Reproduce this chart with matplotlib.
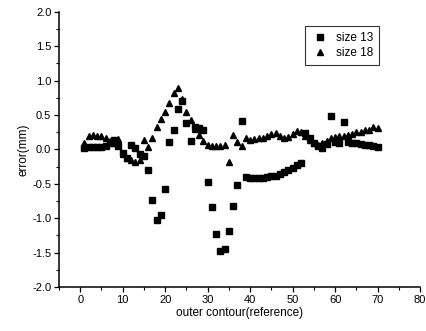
import matplotlib
matplotlib.use('Agg')
import matplotlib.pyplot as plt
import matplotlib.ticker as mticker

plt.rcParams['font.family'] = ['Liberation Sans', 'DejaVu Sans']

# ── Data ──────────────────────────────────────────────────────────────────────
x_points = list(range(1, 71))

size13 = [0.02, 0.03, 0.03, 0.04, 0.04, 0.05, 0.10, 0.14, 0.05, -0.05,
          -0.12, 0.07, 0.02, -0.06, -0.10, -0.30, -0.74, -1.03, -0.96, -0.58,
          0.11, 0.28, 0.59, 0.70, 0.38, 0.12, 0.33, 0.31, 0.28, -0.47,
          -0.84, -1.23, -1.47, -1.45, -1.18, -0.82, -0.52, 0.42, -0.40, -0.41,
          -0.41, -0.41, -0.41, -0.40, -0.39, -0.38, -0.36, -0.33, -0.30, -0.27,
          -0.23, -0.19, 0.24, 0.17, 0.10, 0.05, 0.02, 0.08, 0.48, 0.11,
          0.10, 0.40, 0.11, 0.10, 0.09, 0.08, 0.07, 0.06, 0.05, 0.03]

size18 = [0.10, 0.19, 0.21, 0.19, 0.20, 0.17, 0.12, 0.10, 0.15, -0.06,
          -0.12, -0.16, -0.18, -0.15, 0.14, 0.03, 0.17, 0.33, 0.45, 0.55,
          0.67, 0.82, 0.90, 0.73, 0.55, 0.43, 0.30, 0.21, 0.13, 0.07,
          0.05, 0.05, 0.05, 0.06, -0.18, 0.21, 0.11, 0.05, 0.16, 0.14,
          0.15, 0.17, 0.16, 0.19, 0.22, 0.24, 0.20, 0.16, 0.18, 0.22,
          0.27, 0.26, 0.20, 0.14, 0.09, 0.07, 0.10, 0.13, 0.17, 0.18,
          0.19, 0.20, 0.21, 0.23, 0.25, 0.26, 0.28, 0.29, 0.33, 0.31]

x_ticks = [0, 10, 20, 30, 40, 50, 60, 70, 80]
y_ticks = [-2.0, -1.5, -1.0, -0.5, 0.0, 0.5, 1.0, 1.5, 2.0]

# ── Figure ────────────────────────────────────────────────────────────────────
fig = plt.figure(figsize=(4.26, 3.31), dpi=100)
ax = fig.add_axes([0.1385, 0.133, 0.8475, 0.831])

ax.plot(x_points, size13, linestyle='none', marker='s', markersize=4.2,
        color='black', label='size 13')
ax.plot(x_points, size18, linestyle='none', marker='^', markersize=5,
        color='black', label='size 18')

ax.set_xlim(-5, 80)
ax.set_ylim(-2, 2)
ax.set_xticks(x_ticks)
ax.set_yticks(y_ticks)
ax.yaxis.set_major_formatter(mticker.FormatStrFormatter('%.1f'))
ax.xaxis.set_minor_locator(mticker.MultipleLocator(5))
ax.yaxis.set_minor_locator(mticker.MultipleLocator(0.25))

for side in ('top', 'right'):
    ax.spines[side].set_visible(False)
for side in ('left', 'bottom'):
    ax.spines[side].set_linewidth(1.1)

ax.tick_params(which='major', direction='out', length=3.5, width=0.9,
               labelsize=8, pad=2)
ax.tick_params(which='minor', direction='out', length=2, width=0.8)

ax.set_xlabel('outer contour(reference)', fontsize=8.5, labelpad=2)
ax.set_ylabel('error(mm)', fontsize=8.5, labelpad=2)

legend = ax.legend(loc='upper right', bbox_to_anchor=(0.903, 0.971),
                   fontsize=8.5, frameon=True, fancybox=False,
                   edgecolor='black', handletextpad=0.6, borderpad=0.5,
                   labelspacing=0.3, handlelength=1.5)
legend.get_frame().set_linewidth(0.8)

fig.savefig('out.png', dpi=100, facecolor='white')
